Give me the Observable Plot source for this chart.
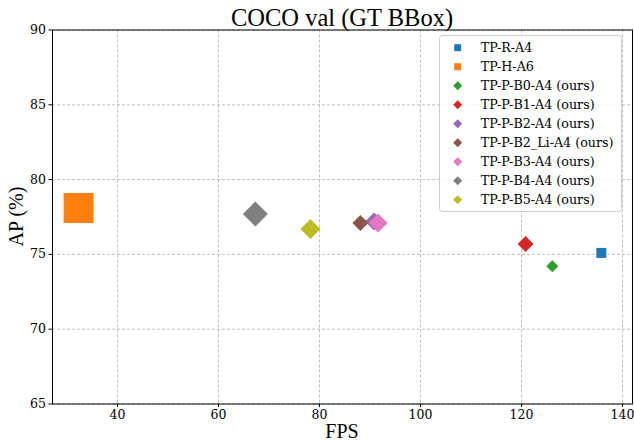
<!DOCTYPE html>
<html>
<head>
<meta charset="utf-8">
<script src="https://cdn.jsdelivr.net/npm/d3@7"></script>
<script src="https://cdn.jsdelivr.net/npm/@observablehq/plot@0.6"></script>
<style>
  html, body { margin: 0; padding: 0; background: #fff; }
  #chart svg { display: block; }
</style>
</head>
<body>
<div id="chart"></div>
<script>
// ---- data ----
const models = ["TP-R-A4", "TP-H-A6", "TP-P-B0-A4 (ours)", "TP-P-B1-A4 (ours)", "TP-P-B2-A4 (ours)",
                "TP-P-B2_Li-A4 (ours)", "TP-P-B3-A4 (ours)", "TP-P-B4-A4 (ours)", "TP-P-B5-A4 (ours)"];
const fps = [135.8, 32.3, 126.1, 120.8, 90.8, 88.1, 91.6, 67.3, 78.2];
const ap  = [75.1, 78.1, 74.2, 75.7, 77.2, 77.1, 77.1, 77.7, 76.7];
const xTicks = [40, 60, 80, 100, 120, 140];
const yTicks = [65, 70, 75, 80, 85, 90];
const titleText = "COCO val (GT BBox)";
const xLabel = "FPS";
const yLabel = "AP (%)";

// ---- styles (per model) ----
const colors  = ["#1f77b4", "#ff7f0e", "#2ca02c", "#d62728", "#9467bd", "#8c564b", "#e377c2", "#7f7f7f", "#bcbd22"];
const shapes  = ["square", "square", "diamond2", "diamond2", "diamond2", "diamond2", "diamond2", "diamond2", "diamond2"];
const extents = [10, 30, 12, 16, 18, 16, 19, 25, 20]; // marker pixel extent (side or diagonal)

const rows = models.map((m, i) => ({model: m, fps: fps[i], ap: ap[i]}));

function radiusFor(shape, ext) {
  return shape === "square" ? ext / Math.sqrt(Math.PI) : ext / (2 * 0.62625 * Math.sqrt(Math.PI));
}

const W = 634, H = 441;
const mL = 52, mR = 2, mT = 29.5, mB = 37.5;
const serif = "'Liberation Serif', 'Times New Roman', serif";
const dvs = "'DejaVu Serif', serif";

const pointMarks = rows.map((d, i) => Plot.dot([d], {
  x: "fps", y: "ap",
  symbol: shapes[i],
  r: radiusFor(shapes[i], extents[i]),
  fill: colors[i],
  stroke: "none"
}));

const plot = Plot.plot({
  width: W, height: H,
  marginLeft: mL, marginRight: mR, marginTop: mT, marginBottom: mB,
  style: {fontFamily: dvs, fontSize: "12.5px", color: "black", background: "white", overflow: "visible"},
  x: {domain: [27.13, 141.98], label: null},
  y: {domain: [65, 90], label: null},
  marks: [
    Plot.gridX(xTicks, {stroke: "#b0b0b0", strokeOpacity: 1, strokeDasharray: "3,2", strokeWidth: 0.8}),
    Plot.gridY(yTicks, {stroke: "#b0b0b0", strokeOpacity: 1, strokeDasharray: "3,2", strokeWidth: 0.8}),
    ...pointMarks,
    Plot.frame({stroke: "black", strokeWidth: 1}),
    Plot.axisX(xTicks, {tickSize: 3.5, tickPadding: 3, label: null, fontSize: 12.5}),
    Plot.axisY(yTicks, {tickSize: 3.5, tickPadding: 3, label: null, fontSize: 12.5})
  ]
});

document.getElementById("chart").appendChild(plot);

// ---- title, axis labels, legend ----
const svg = d3.select(plot.tagName.toLowerCase() === "svg" ? plot : plot.querySelector("svg"));
const cx = mL + (W - mL - mR) / 2;
const cy = mT + (H - mT - mB) / 2;

svg.append("text").attr("x", cx).attr("y", 26).attr("text-anchor", "middle")
  .attr("font-family", serif).attr("font-size", 24.5).attr("fill", "black").text(titleText);
svg.append("text").attr("x", cx).attr("y", 438).attr("text-anchor", "middle")
  .attr("font-family", serif).attr("font-size", 20).attr("fill", "black").text(xLabel);
svg.append("text").attr("transform", `translate(23,${cy}) rotate(-90)`).attr("text-anchor", "middle")
  .attr("font-family", serif).attr("font-size", 20).attr("fill", "black").text(yLabel);

const lg = svg.append("g").attr("text-anchor", "start");
lg.append("rect").attr("x", 439.5).attr("y", 35.5).attr("width", 182).attr("height", 176)
  .attr("rx", 3).attr("fill", "white").attr("fill-opacity", 0.8).attr("stroke", "#cccccc");
models.forEach((m, i) => {
  const y = 47.7 + i * 19;
  const sym = shapes[i] === "square" ? d3.symbolSquare : d3.symbolDiamond2;
  const size = shapes[i] === "square" ? 49 : Math.pow(9 / (2 * 0.62625), 2);
  lg.append("path").attr("d", d3.symbol(sym, size)()).attr("transform", `translate(457.7,${y})`).attr("fill", colors[i]);
  lg.append("text").attr("x", 480.7).attr("y", y).attr("dy", "0.35em").attr("text-anchor", "start")
    .attr("font-family", dvs).attr("font-size", 12.7).attr("fill", "black").text(m);
});
</script>
</body>
</html>
